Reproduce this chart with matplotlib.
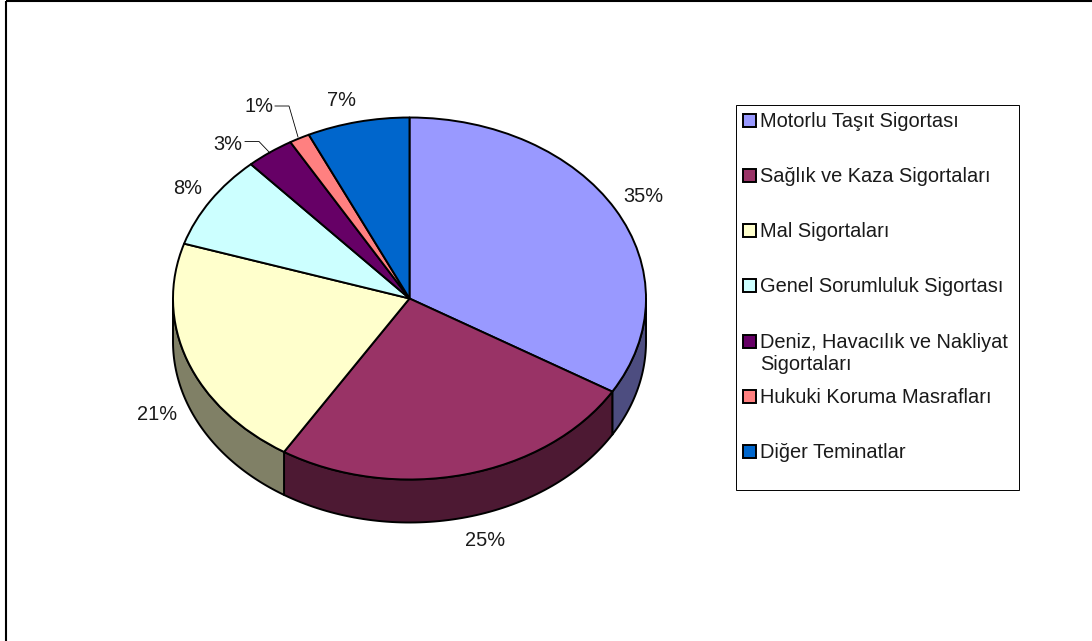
import numpy as np
import matplotlib
matplotlib.use('Agg')
import matplotlib.pyplot as plt
from matplotlib.patches import Rectangle

plt.rcParams['font.family'] = ['Liberation Sans', 'DejaVu Sans']

categories = ['Motorlu Taşıt Sigortası', 'Sağlık ve Kaza Sigortaları', 'Mal Sigortaları',
              'Genel Sorumluluk Sigortası', 'Deniz, Havacılık ve Nakliyat\nSigortaları',
              'Hukuki Koruma Masrafları', 'Diğer Teminatlar']
# slice sizes (the printed labels are rounded differently)
shares = [33.6, 25.3, 21.0, 8.4, 3.3, 1.4, 7.0]
pct_labels = ['35%', '25%', '21%', '8%', '3%', '1%', '7%']
colors = ['#9999FF', '#993366', '#FFFFCC', '#CCFFFF', '#660066', '#FF8080', '#0066CC']
wall_colors = ['#4D4D80', '#4D1933', '#808066', '#668080', '#330033', '#804040', '#003366']

W, H = 1092, 641
CX, CY, RX, RY, DEPTH = 409.5, 298.5, 236.5, 181.0, 43.0
LW = 1.4
FS = 14.4

fig = plt.figure(figsize=(W / 100, H / 100), dpi=100, facecolor='white')

# pie axes: the unit circle is stretched to the ellipse of the top face
pw, ph = 2.5 * RX, 2.5 * RY
ax = fig.add_axes([(CX - pw / 2) / W, 1 - (CY + ph / 2) / H, pw / W, ph / H])
wedges, _ = ax.pie(shares, colors=colors, startangle=90, counterclock=False,
                   wedgeprops={'edgecolor': 'black', 'linewidth': LW, 'joinstyle': 'round', 'zorder': 3})
ax.set_aspect('auto')
ax.set_xlim(-1.25, 1.25)
ax.set_ylim(-1.25, 1.25)

# side wall: only the front half (180..360 deg) of the rim can be seen
d = DEPTH / RY
cum = 90 - np.cumsum([0] + shares) / sum(shares) * 360
for i in range(len(shares)):
    # angles run clockwise, -180..0 is the front
    a0 = min(cum[i], 0)
    a1 = max(cum[i + 1], -180)
    if a0 <= a1:
        continue
    t = np.radians(np.linspace(a0, a1, 80))
    xs = np.cos(t)
    ys = np.sin(t)
    ax.fill(np.r_[xs, xs[::-1]], np.r_[ys, ys[::-1] - d], facecolor=wall_colors[i],
            edgecolor='black', linewidth=LW, zorder=2, joinstyle='round')

# overlay in pixel coordinates for frame, labels and legend
ov = fig.add_axes([0, 0, 1, 1], facecolor='none')
ov.set_xlim(0, W)
ov.set_ylim(H, 0)
ov.axis('off')

ov.plot([6, 6], [H, 0.5], color='black', lw=1.5, solid_capstyle='butt')
ov.plot([6, W], [0.8, 0.8], color='black', lw=1.5, solid_capstyle='butt')

label_x = [643, 485, 157, 188, 228, 259, 342]
label_y = [197, 541, 415, 188, 144, 107, 101]
for s, x, y in zip(pct_labels, label_x, label_y):
    ov.text(x, y, s, fontsize=FS, ha='center', va='center', color='#1a1a1a')

# leader lines for the two small slices
ov.plot([245, 259, 270], [141.5, 141.5, 153], color='black', lw=0.6)
ov.plot([275, 289, 298], [106, 106, 137], color='black', lw=0.6)

# legend box
ov.add_patch(Rectangle((735.5, 104.5), 283, 385, facecolor='white', edgecolor='black', lw=0.7))
legend_y = [120, 175, 230, 285, 341, 396, 451]
for name, col, y in zip(categories, colors, legend_y):
    ov.add_patch(Rectangle((742.5, y - 6.5), 13, 13, facecolor=col, edgecolor='black', lw=1.4))
    ov.text(760.5, y - 8, name, fontsize=FS, ha='left', va='top', color='#1a1a1a', linespacing=1.2)

fig.savefig('out.png', dpi=100)
